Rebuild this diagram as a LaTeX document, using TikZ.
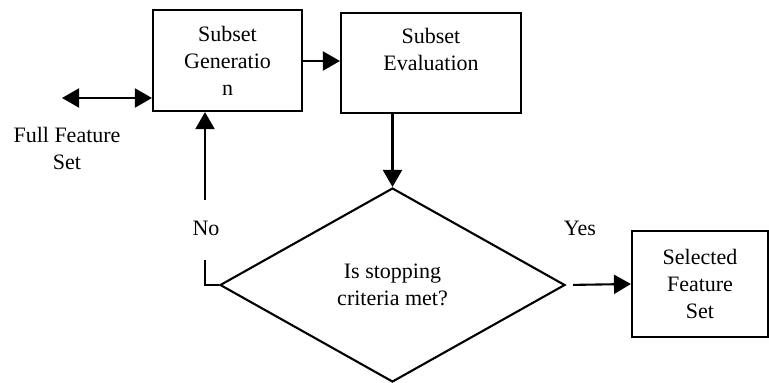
\documentclass[tikz,border=0pt]{standalone}
\usepackage{fontspec}
\setmainfont{Liberation Serif}
\usetikzlibrary{shapes.geometric,arrows.meta}
\begin{document}
\begin{tikzpicture}[x=1pt,y=-1pt,
  txt/.style={font=\fontsize{22}{27}\selectfont, align=center, text=black},
  box/.style={draw, line width=2.1pt, inner sep=0pt, txt},
  conn/.style={line width=2.1pt},
  arr/.style={conn, -{Triangle[length=17pt,width=19pt]}},
  darr/.style={conn, {Triangle[length=17pt,width=19pt]}-{Triangle[length=17pt,width=19pt]}}]
\useasboundingbox (0,0) rectangle (769,383);
\node[box, minimum width=149pt, minimum height=101pt] (gen) at (227.5,60.5) {Subset\\Generatio\\n};
\node[box, minimum width=180pt, minimum height=100pt] (eval) at (431,63) {Subset\\Evaluation\\\mbox{}};
\node[box, shape=diamond, minimum width=345pt, minimum height=194pt] (dia) at (392.5,285) {Is stopping\\criteria met?};
\node[box, minimum width=136pt, minimum height=106pt] (sel) at (700,284) {Selected\\Feature\\Set};
\node[txt] (ffs) at (67,148) {Full Feature\\Set};
\node[txt] (no) at (206,228) {No};
\node[txt] (yes) at (580,228) {Yes};
\coordinate (ffe) at (62,98);
\coordinate (n1) at (205,260);
\coordinate (n2) at (205,200);
\draw[darr] (ffe) -- (gen.west |- ffe);
\draw[arr] (gen.east |- 0,61) -- (eval.west |- 0,61);
\draw[arr] (eval.south -| dia.north) -- (dia.north);
\draw[conn] (dia.west) -- (dia.west -| n1) -- (n1);
\draw[arr] (n2) -- (n2 |- gen.south);
\draw[arr, shorten <=7pt] (dia.east) -- (sel.west);
\end{tikzpicture}
\end{document}
